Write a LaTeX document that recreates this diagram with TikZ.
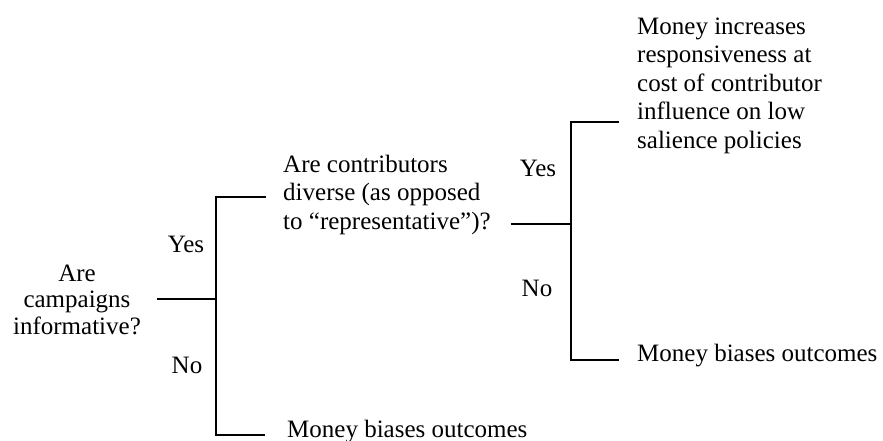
\documentclass[tikz,border=0pt]{standalone}
\usepackage{fontspec}
\setmainfont{Liberation Serif}
\begin{document}
\begin{tikzpicture}[x=1pt,y=-1pt,
  txt/.style={inner sep=0pt, font=\fontsize{25}{28.5}\selectfont},
  lbl/.style={inner sep=0pt, font=\fontsize{25}{28}\selectfont, anchor=base},
  conn/.style={line width=1.3pt, line cap=butt, line join=miter}]
\useasboundingbox (0,0) rectangle (883,441);
% question and outcome texts (anchored at the baseline of their last line)
\node[txt, align=center, anchor=base, font=\fontsize{25}{26.5}\selectfont] (q1) at (77,334) {Are\\campaigns\\informative?};
\node[txt, align=left, anchor=base west] (q2) at (283,229) {Are contributors\\diverse (as opposed\\to “representative”)?};
\node[txt, align=left, anchor=base west] (r1) at (637,148) {Money increases\\responsiveness at\\cost of contributor\\influence on low\\salience policies};
\node[txt, anchor=base west] (r2) at (637,361) {Money biases outcomes};
\node[txt, anchor=base west] (r3) at (287,437) {Money biases outcomes};
% branch labels
\node[lbl] (y1) at (186,252) {Yes};
\node[lbl] (n1) at (187,373) {No};
\node[lbl] (y2) at (538,176) {Yes};
\node[lbl] (n2) at (537,296) {No};
% bracket points
\coordinate (b1) at (216,299);
\coordinate (b1t) at (216,197);
\coordinate (b1b) at (216,435);
\coordinate (b2) at (571,224);
\coordinate (b2t) at (571,122);
\coordinate (b2b) at (571,360);
% connectors
\draw[conn] ([xshift=16pt]q1.east |- b1) -- (b1);
\draw[conn] ([xshift=-17pt]q2.west |- b1t) -- (b1t) -- (b1b) -- ([xshift=-22pt]r3.west |- b1b);
\draw[conn] ([xshift=20pt]q2.east |- b2) -- (b2);
\draw[conn] ([xshift=-18pt]r1.west |- b2t) -- (b2t) -- (b2b) -- ([xshift=-18pt]r2.west |- b2b);
\end{tikzpicture}
\end{document}
